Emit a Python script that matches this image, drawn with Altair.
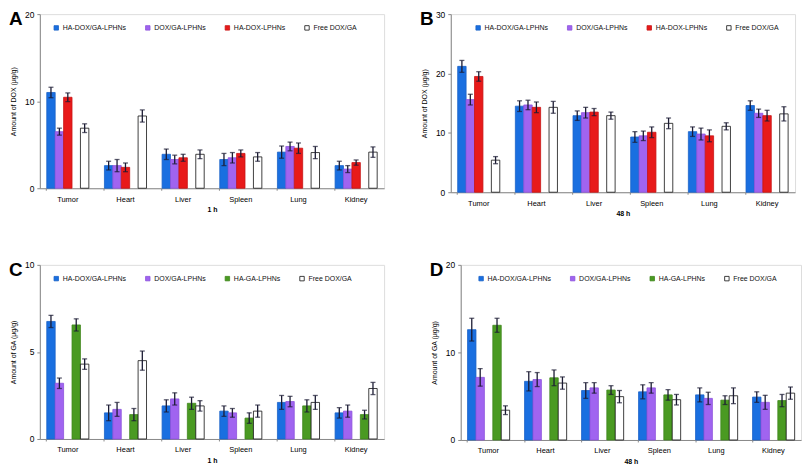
import altair as alt
import pandas as pd

organs = ["Tumor", "Heart", "Liver", "Spleen", "Lung", "Kidney"]
series_dox = ["HA-DOX/GA-LPHNs", "DOX/GA-LPHNs", "HA-DOX-LPHNs", "Free DOX/GA"]
series_ga = ["HA-DOX/GA-LPHNs", "DOX/GA-LPHNs", "HA-GA-LPHNs", "Free DOX/GA"]

# Panel A: DOX, 1 h  (one list per series, organs in order)
a_vals = [
    [11.0, 2.6, 3.9, 3.3, 4.15, 2.6],
    [6.5, 2.6, 3.3, 3.5, 4.8, 2.2],
    [10.45, 2.4, 3.5, 4.0, 4.6, 2.95],
    [6.9, 8.3, 3.9, 3.6, 4.1, 4.15],
]
a_errs = [
    [0.6, 0.5, 0.6, 0.7, 0.7, 0.5],
    [0.4, 0.7, 0.5, 0.6, 0.5, 0.4],
    [0.5, 0.5, 0.4, 0.4, 0.6, 0.3],
    [0.5, 0.7, 0.5, 0.5, 0.7, 0.6],
]
# Panel B: DOX, 48 h
b_vals = [
    [21.2, 14.5, 12.9, 9.3, 10.2, 14.6],
    [15.6, 14.7, 13.4, 9.5, 9.8, 13.3],
    [19.5, 14.3, 13.5, 10.1, 9.5, 12.9],
    [5.4, 14.3, 12.9, 11.6, 11.1, 13.2],
]
b_errs = [
    [1.0, 0.9, 0.8, 0.9, 0.8, 0.8],
    [0.9, 0.8, 0.9, 0.8, 1.0, 0.7],
    [0.8, 0.9, 0.6, 0.9, 1.0, 0.9],
    [0.6, 1.0, 0.6, 0.9, 0.6, 1.2],
]
# Panel C: GA, 1 h
c_vals = [
    [6.75, 1.5, 1.9, 1.6, 2.1, 1.5],
    [3.2, 1.7, 2.3, 1.5, 2.15, 1.6],
    [6.55, 1.4, 2.05, 1.2, 1.9, 1.4],
    [4.3, 4.5, 1.9, 1.6, 2.1, 2.9],
]
c_errs = [
    [0.35, 0.45, 0.35, 0.3, 0.4, 0.3],
    [0.3, 0.4, 0.35, 0.25, 0.3, 0.35],
    [0.35, 0.35, 0.35, 0.3, 0.35, 0.25],
    [0.3, 0.55, 0.3, 0.35, 0.4, 0.35],
]
# Panel D: GA, 48 h
d_vals = [
    [12.6, 6.7, 5.65, 5.5, 5.15, 4.9],
    [7.15, 6.9, 5.95, 5.95, 4.75, 4.3],
    [13.1, 7.1, 5.7, 5.15, 4.55, 4.5],
    [3.4, 6.5, 4.95, 4.6, 5.05, 5.35],
]
d_errs = [
    [1.3, 1.1, 0.9, 0.8, 0.8, 0.6],
    [1.0, 0.8, 0.6, 0.6, 0.7, 0.8],
    [0.8, 0.9, 0.5, 0.6, 0.5, 0.7],
    [0.5, 0.7, 0.7, 0.6, 0.9, 0.7],
]

fills_dox = ["#1a6fe0", "#a064f0", "#e81a1a", "#ffffff"]
fills_ga = ["#1a6fe0", "#a064f0", "#4a9a22", "#ffffff"]
strokes_dox = ["#1a62c8", "#8c52dc", "#c81414", "#111111"]
strokes_ga = ["#1a62c8", "#8c52dc", "#3f861c", "#111111"]

FONT = "Liberation Sans"


def build_df(series, vals, errs):
    rows = []
    for s, vs, es in zip(series, vals, errs):
        for o, v, e in zip(organs, vs, es):
            rows.append({"organ": o, "series": s, "value": v, "lo": v - e, "hi": v + e})
    return pd.DataFrame(rows)


def panel(letter, series, vals, errs, fills, strokes, ymax, ticks, ytitle, xtitle,
          lx, w, h):
    df = build_df(series, vals, errs)
    base = alt.Chart(df)
    xenc = alt.X("organ:N", sort=organs,
                 scale=alt.Scale(paddingInner=0.27, paddingOuter=0.12),
                 axis=alt.Axis(title=xtitle, labelAngle=0, bandPosition=0,
                               tickSize=2, titleFontSize=7, titleFontWeight="bold",
                               labelFontSize=7.5, labelPadding=5, titlePadding=3))
    xoff = alt.XOffset("series:N", sort=series,
                       scale=alt.Scale(paddingInner=0, paddingOuter=0))
    yscale = alt.Scale(domain=[0, ymax], nice=False)
    leg = alt.Legend(title=None, orient="none", legendX=lx, legendY=10,
                     direction="horizontal", columns=4, columnPadding=17,
                     symbolType="square", symbolSize=20, symbolStrokeWidth=0.8,
                     labelFontSize=7, labelOffset=3, labelFont=FONT,
                     labelColor="#111111")
    bars = base.mark_bar(strokeWidth=0.8).encode(
        x=xenc,
        xOffset=xoff,
        y=alt.Y("value:Q", scale=yscale,
                axis=alt.Axis(title=ytitle, values=ticks, tickSize=3, grid=False,
                              titleFontSize=7, titleFontWeight="normal",
                              labelFontSize=8.5, labelPadding=3, titlePadding=8)),
        fill=alt.Fill("series:N", sort=series,
                      scale=alt.Scale(domain=series, range=fills), legend=leg),
        stroke=alt.Stroke("series:N", sort=series,
                          scale=alt.Scale(domain=series, range=strokes), legend=leg),
    )
    rules = base.mark_rule(color="#1b1b33", strokeWidth=1.3).encode(
        x=alt.X("organ:N", sort=organs), xOffset=xoff,
        y=alt.Y("lo:Q", scale=yscale), y2="hi:Q")
    cap_lo = base.mark_tick(color="#1b1b33", size=5, thickness=1.3, orient="horizontal").encode(
        x=alt.X("organ:N", sort=organs), xOffset=xoff, y=alt.Y("lo:Q", scale=yscale))
    cap_hi = base.mark_tick(color="#1b1b33", size=5, thickness=1.3, orient="horizontal").encode(
        x=alt.X("organ:N", sort=organs), xOffset=xoff, y=alt.Y("hi:Q", scale=yscale))
    lab = alt.Chart(pd.DataFrame({"t": [letter]})).mark_text(
        fontSize=19, fontWeight="bold", align="left", baseline="top",
        font="Liberation Sans", color="#000000").encode(
        text="t:N", x=alt.value(-31), y=alt.value(-4))
    return alt.layer(bars, rules, cap_lo, cap_hi, lab).properties(width=w, height=h)


pA = panel("A", series_dox, a_vals, a_errs, fills_dox, strokes_dox, 20, [0, 10, 20],
           "Amount of DOX (μg/g)", "1 h", 13, 346, 175)
pB = panel("B", series_dox, b_vals, b_errs, fills_dox, strokes_dox, 30, [0, 10, 20, 30],
           "Amount of DOX (μg/g)", "48 h", 24, 346, 179)
pC = panel("C", series_ga, c_vals, c_errs, fills_ga, strokes_ga, 10, [0, 5, 10],
           "Amount of GA (μg/g)", "1 h", 13, 346, 175)
pD = panel("D", series_ga, d_vals, d_errs, fills_ga, strokes_ga, 20, [0, 10, 20],
           "Amount of GA (μg/g)", "48 h", 17, 342, 176)

row1 = alt.hconcat(pA, pB, spacing=34).resolve_scale(fill="independent", stroke="independent", y="independent")
row2 = alt.hconcat(pC, pD, spacing=44).resolve_scale(fill="independent", stroke="independent", y="independent")

chart = alt.vconcat(row1, row2, spacing=43).resolve_scale(
    fill="independent", stroke="independent", y="independent"
).configure_view(stroke=None).configure_axis(
    domainColor="#999999", tickColor="#999999", labelColor="#111111",
    titleColor="#111111", labelFont=FONT, titleFont=FONT, grid=False
).configure_scale(
    offsetBandPaddingInner=0, offsetBandPaddingOuter=0
).configure(padding=0, background="#ffffff")

chart.save("out.html", embed_options={"renderer": "svg", "actions": False})
